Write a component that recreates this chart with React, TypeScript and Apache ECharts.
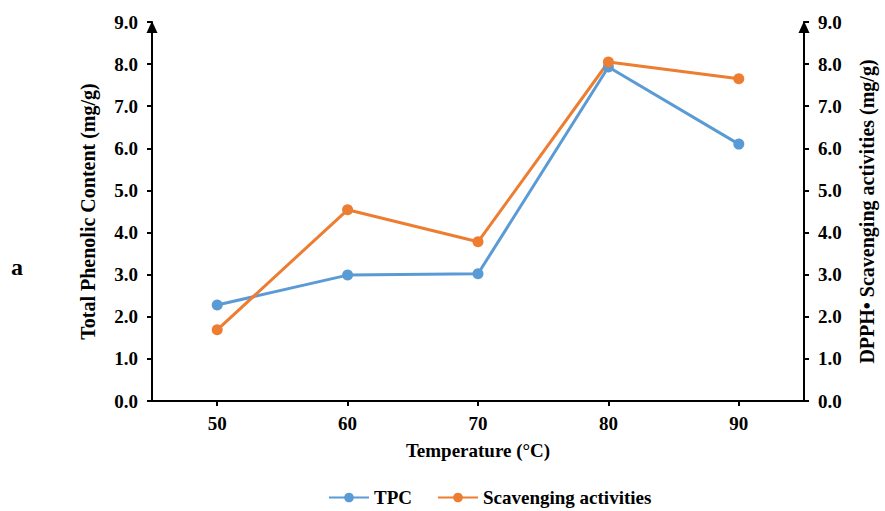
import React, { useEffect, useRef } from "react";
import * as echarts from "echarts";

const categories = ["50", "60", "70", "80", "90"];
const tpc = [2.28, 2.99, 3.02, 7.93, 6.1];
const scavenging = [1.69, 4.54, 3.78, 8.05, 7.65];

const FONT = "'Liberation Serif', 'Times New Roman', serif";

export default function App() {
  const ref = useRef<HTMLDivElement>(null);
  useEffect(() => {
    if (!ref.current) return;
    document.body.style.margin = "0";
    document.body.style.overflow = "hidden";
    const chart = echarts.init(ref.current, undefined, { renderer: "svg" });
    const axisLabel = { color: "#000", fontFamily: FONT, fontWeight: "bold", fontSize: 19, margin: 14, formatter: (v: number) => v.toFixed(1) };
    const yBase = {
      type: "value",
      min: 0,
      max: 9,
      interval: 1,
      axisLine: { show: true, lineStyle: { color: "#000", width: 2 }, symbol: ["none", "triangle"], symbolSize: [11, 12], symbolOffset: [0, -5] },
      axisTick: { show: true, length: 5, lineStyle: { color: "#000", width: 2 } },
      splitLine: { show: false },
      nameLocation: "middle",
      nameGap: 54,
      nameTextStyle: { color: "#000", fontFamily: FONT, fontWeight: "bold", fontSize: 20 },
      axisLabel,
    };
    chart.setOption({
      animation: false,
      backgroundColor: "#fff",
      grid: { left: 152, right: 76, top: 22, bottom: 110 },
      xAxis: {
        type: "category",
        data: categories,
        boundaryGap: true,
        axisLine: { lineStyle: { color: "#000", width: 2 } },
        axisTick: { show: true, alignWithLabel: true, length: 5, lineStyle: { color: "#000", width: 2 } },
        axisLabel: { color: "#000", fontFamily: FONT, fontWeight: "bold", fontSize: 19, margin: 13 },
        name: "Temperature (°C)",
        nameLocation: "middle",
        nameGap: 40,
        nameTextStyle: { color: "#000", fontFamily: FONT, fontWeight: "bold", fontSize: 19 },
      },
      yAxis: [
        { ...yBase, position: "left", name: "Total Phenolic Content (mg/g)" },
        { ...yBase, position: "right", name: "DPPH• Scavenging activities (mg/g)", nameGap: 53, nameRotate: 90 },
      ],
      legend: {
        bottom: -1,
        left: 323,
        itemWidth: 40,
        itemHeight: 12,
        itemGap: 25,
        textStyle: { color: "#000", fontFamily: FONT, fontWeight: "bold", fontSize: 19 },
        data: ["TPC", "Scavenging activities"],
      },
      graphic: [
        { type: "text", left: 11, top: 255, style: { text: "a", fill: "#000", font: `bold 24px ${FONT}` } },
      ],
      series: [
        {
          name: "TPC",
          type: "line",
          data: tpc,
          yAxisIndex: 0,
          symbol: "circle",
          symbolSize: 11,
          itemStyle: { color: "#5B9BD5" },
          lineStyle: { color: "#5B9BD5", width: 3 },
        },
        {
          name: "Scavenging activities",
          type: "line",
          data: scavenging,
          yAxisIndex: 1,
          symbol: "circle",
          symbolSize: 11,
          itemStyle: { color: "#ED7D31" },
          lineStyle: { color: "#ED7D31", width: 3 },
        },
      ],
    });
    return () => chart.dispose();
  }, []);
  return <div ref={ref} style={{ width: 885, height: 511, position: "absolute", left: 0, top: 0 }} />;
}
